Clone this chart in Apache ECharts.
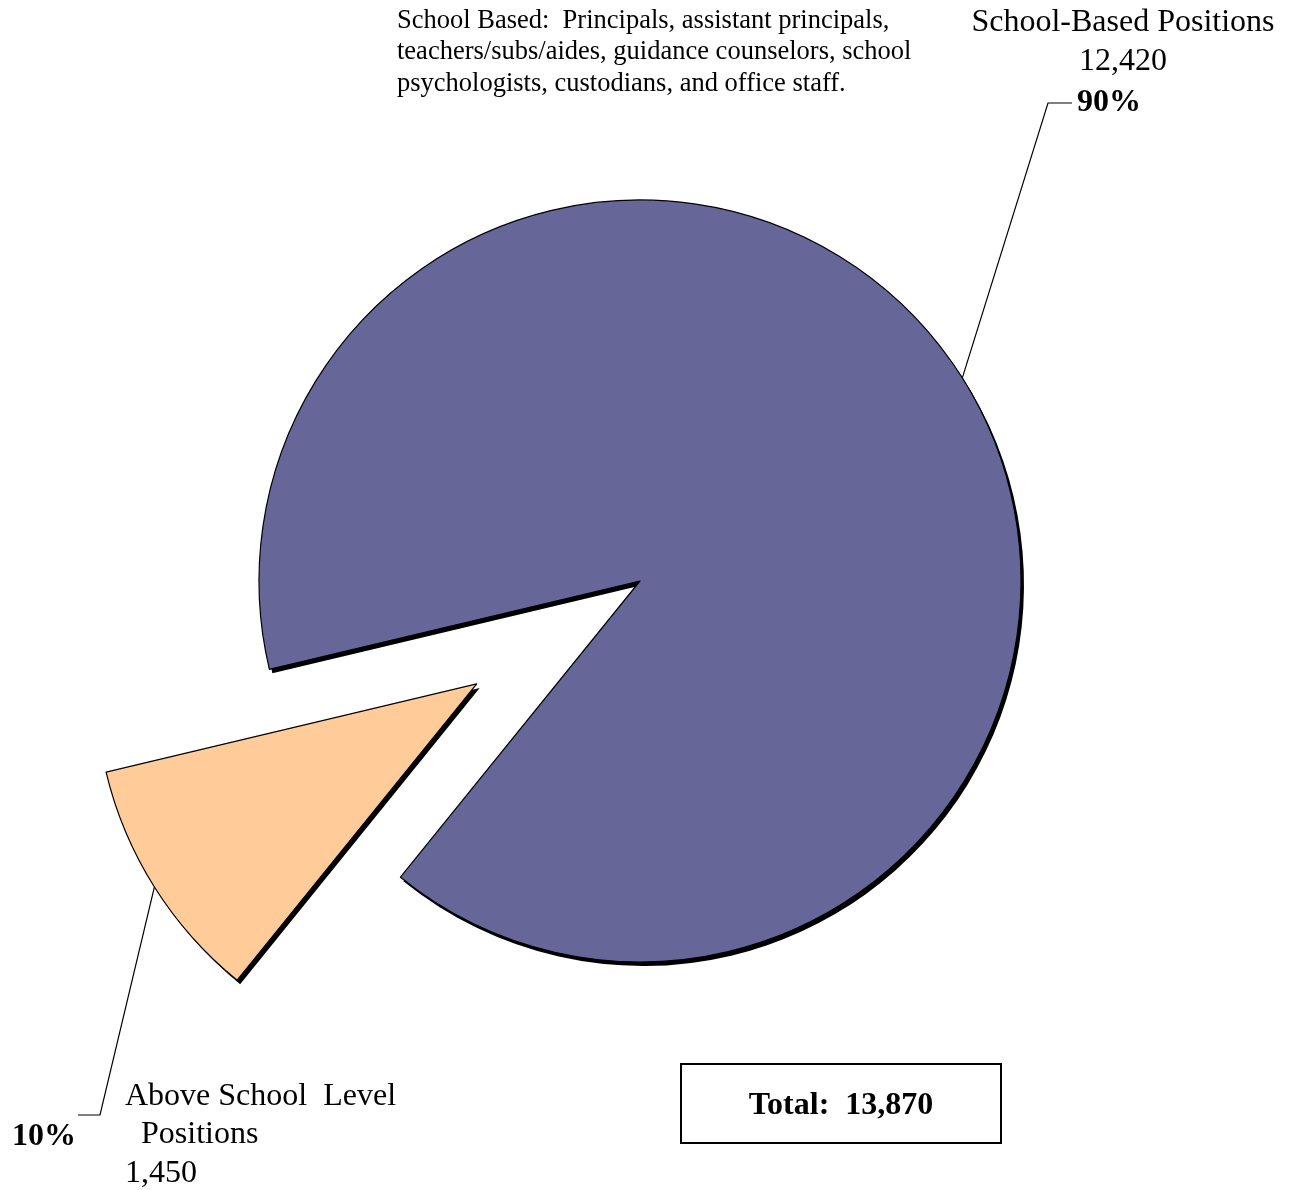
<!DOCTYPE html>
<html>
<head>
<meta charset="utf-8">
<script src="https://cdn.jsdelivr.net/npm/echarts@6/dist/echarts.min.js"></script>
<style>
  html, body { margin: 0; padding: 0; background: #fff; }
  #chart { width: 1295px; height: 1190px; }
</style>
</head>
<body>
<div id="chart"></div>
<script>
// ---- data ----
const categories = ['School-Based Positions', 'Above School  Level\n  Positions'];
const values = [12420, 1450];
const valueLabels = ['12,420', '1,450'];
const colors = ['#666699', '#FFCC99'];
const noteText = 'School Based:  Principals, assistant principals,\nteachers/subs/aides, guidance counselors, school\npsychologists, custodians, and office staff.';
const totalLabel = 'Total:  13,870';

// ---- layout ----
const FONT = '"Liberation Serif", "Times New Roman", serif';
const CX = 640, CY = 581, R = 381, START = 193.4, OFFSET = 193;
const total = values.reduce((a, b) => a + b, 0);
const pctLabels = values.map(v => Math.round(v / total * 100) + '%');

// mid angles (math convention, degrees) of each slice, clockwise from START
const mids = [];
(function () {
  let a = START;
  values.forEach(v => {
    const span = v / total * 360;
    mids.push(a - span / 2);
    a -= span;
  });
})();
function anchor(i, selected) {
  const rad = mids[i] * Math.PI / 180;
  const off = selected ? OFFSET : 0;
  const cx = CX + off * Math.cos(rad), cy = CY - off * Math.sin(rad);
  return [cx + R * Math.cos(rad), cy - R * Math.sin(rad)];
}

const baseSeries = {
  type: 'pie',
  center: [CX, CY],
  radius: R,
  startAngle: START,
  clockwise: true,
  selectedMode: 'single',
  selectedOffset: OFFSET,
  emphasis: { disabled: true },
  silent: true
};

const chart = echarts.init(document.getElementById('chart'), null, { renderer: 'canvas' });
const a1 = anchor(1, true);
chart.setOption({
  animation: false,
  backgroundColor: '#fff',
  series: [
    Object.assign({}, baseSeries, {
      itemStyle: {
        borderWidth: 0,
        shadowColor: '#000',
        shadowOffsetX: 3,
        shadowOffsetY: 4,
        shadowBlur: 0
      },
      label: {
        show: true,
        position: 'outside',
        formatter: p => pctLabels[p.dataIndex],
        fontFamily: FONT,
        fontSize: 32,
        fontWeight: 'bold',
        color: '#000'
      },
      labelLine: { show: true, lineStyle: { color: '#000', width: 1.2 } },
      labelLayout: function (params) {
        if (params.dataIndex === 0) {
          return {
            x: 1077, y: 103, align: 'left', verticalAlign: 'middle',
            labelLinePoints: [anchor(0, false), [1048, 103], [1072, 103]]
          };
        }
        return {};
      },
      data: categories.map((c, i) => ({
        name: c,
        value: values[i],
        selected: i === 1,
        label: { show: i === 0 },
        labelLine: { show: i === 0 },
        itemStyle: { color: colors[i] }
      }))
    }),
    Object.assign({}, baseSeries, {
      itemStyle: { color: 'rgba(0,0,0,0)', borderColor: '#000', borderWidth: 1.2 },
      label: { show: false },
      labelLine: { show: false },
      data: categories.map((c, i) => ({ name: c, value: values[i], selected: i === 1 }))
    })
  ],
  graphic: [
    {
      type: 'polyline', silent: true,
      shape: { points: [a1, [100, 1115], [78, 1115]] },
      style: { stroke: '#000', lineWidth: 1.2, fill: null }
    },
    {
      type: 'text', x: 12, y: 1137,
      style: { text: pctLabels[1], verticalAlign: 'middle', fontFamily: FONT, fontSize: 32, fontWeight: 'bold', fill: '#000' }
    },
    {
      type: 'text', left: 397, top: 5,
      style: { text: noteText, fontFamily: FONT, fontSize: 26.5, lineHeight: 31.5, fill: '#000' }
    },
    {
      type: 'text', x: 1123, y: 3,
      style: { text: categories[0] + '\n' + valueLabels[0], align: 'center', fontFamily: FONT, fontSize: 32, lineHeight: 39, fill: '#000' }
    },
    {
      type: 'text', x: 125, y: 1077,
      style: { text: categories[1] + '\n' + valueLabels[1], align: 'left', fontFamily: FONT, fontSize: 32, lineHeight: 38.5, fill: '#000' }
    },
    {
      type: 'rect', shape: { x: 681, y: 1064, width: 320, height: 79 },
      style: { fill: '#fff', stroke: '#000', lineWidth: 2 }
    },
    {
      type: 'text', x: 841, y: 1106,
      style: { text: totalLabel, align: 'center', verticalAlign: 'middle', fontFamily: FONT, fontSize: 32, fontWeight: 'bold', fill: '#000' }
    }
  ]
});
</script>
</body>
</html>
